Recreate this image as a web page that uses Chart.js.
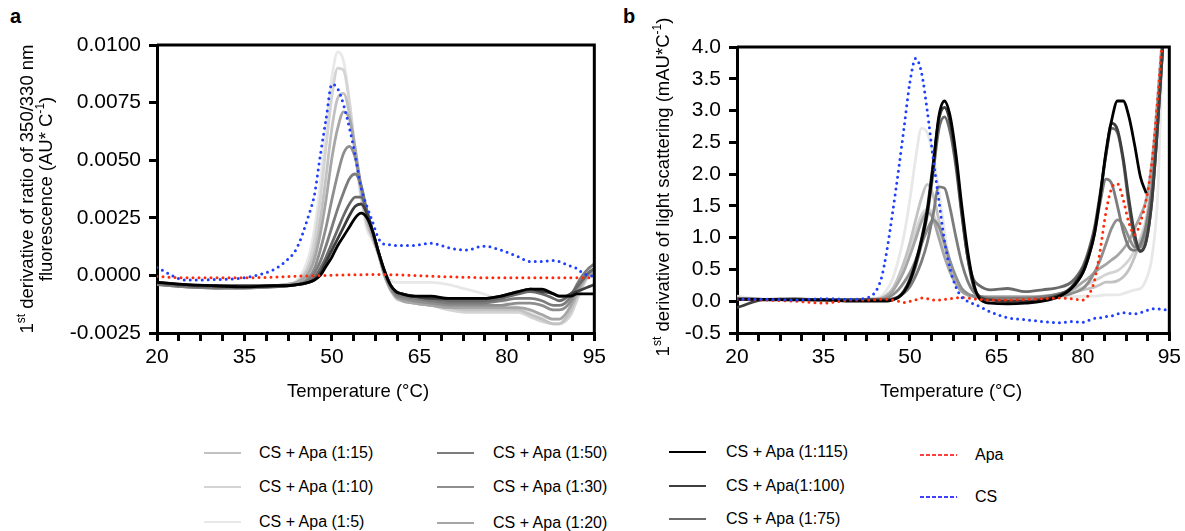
<!DOCTYPE html>
<html>
<head>
<meta charset="utf-8">
<script src="https://cdn.jsdelivr.net/npm/chart.js@4.4.0/dist/chart.umd.min.js"></script>
<style>
  html, body { margin: 0; padding: 0; background: #fff; }
  body { width: 1185px; height: 531px; position: relative; overflow: hidden;
         font-family: Arial, "Liberation Sans", Helvetica, sans-serif; color: #000; }
  #wrapA { position: absolute; left: 0; top: 0; width: 610px; height: 420px; }
  #wrapB { position: absolute; left: 610px; top: 0; width: 575px; height: 420px; }
  .panel { position: absolute; font-weight: bold; font-size: 20px; line-height: 20px; }
  .lgline { position: absolute; line-height: 0; }
  .lgline svg { display: block; }
  .lgtext { position: absolute; font-size: 16px; white-space: nowrap; transform: translateY(-50%); }
</style>
</head>
<body>
<div class="panel" style="left:10px;top:6px">a</div>
<div class="panel" style="left:623px;top:6px">b</div>
<div id="wrapA"><canvas id="chartA" width="610" height="420"></canvas></div>
<div id="wrapB"><canvas id="chartB" width="575" height="420"></canvas></div>
<div id="legend"></div>
<script>
// ---------- data ----------
// panel a : temperature grid (°C)
const TEMP_A = [20, 25, 30, 35, 40, 42, 44, 46, 47, 48, 49, 50, 51, 52, 53, 54, 55, 56, 57, 58,
                59, 60, 61, 62, 64, 67, 70, 73, 76, 79, 82, 84, 86, 88, 89, 90, 91, 92, 93, 94, 95];

const A_R5   = [-0.0003, -0.00045, -0.0005, -0.0005, -0.00045, -0.0004, -0.00022, 0.0008, 0.002, 0.004,
                0.0064, 0.0086, 0.0097, 0.0093, 0.0076, 0.0053, 0.0033, 0.002, 0.0015, 0.0009,
                0.0002, -0.0002, -0.0003, -0.0003, -0.0003, -0.0003, -0.0004, -0.0006, -0.0008, -0.0011,
                -0.0014, -0.0016, -0.0018, -0.0019, -0.0019, -0.0018, -0.0015, -0.001, -0.0005, 0, 0.0003];
const A_R10  = [-0.0003, -0.00045, -0.0005, -0.0005, -0.00045, -0.0004, -0.00028, 0.0005, 0.0015, 0.0033,
                0.0056, 0.0078, 0.009, 0.0089, 0.0075, 0.0054, 0.0035, 0.0022, 0.0016, 0.0009,
                0.0001, -0.0005, -0.0009, -0.0011, -0.0012, -0.0013, -0.0015, -0.0016, -0.0016, -0.0016,
                -0.0016, -0.0018, -0.002, -0.0021, -0.0021, -0.002, -0.0017, -0.0011, -0.0005, 0, 0.0002];
const A_R15  = [-0.00035, -0.00045, -0.0005, -0.0005, -0.00045, -0.0004, -0.0003, 0.0003, 0.001, 0.0024,
                0.0043, 0.0064, 0.0077, 0.0079, 0.007, 0.0053, 0.0036, 0.0023, 0.0016, 0.0009,
                0, -0.0006, -0.001, -0.0011, -0.0012, -0.0013, -0.0014, -0.0015, -0.0015, -0.0015,
                -0.0015, -0.0017, -0.0019, -0.0021, -0.0021, -0.0019, -0.0015, -0.0009, -0.0004, 0, 0.0001];
const A_R20  = [-0.00035, -0.0005, -0.00055, -0.0005, -0.00045, -0.0004, -0.0003, 0.0001, 0.0007, 0.0018,
                0.0033, 0.0051, 0.0064, 0.0071, 0.0068, 0.0055, 0.0038, 0.0025, 0.0017, 0.0009,
                0, -0.0006, -0.0009, -0.0011, -0.0012, -0.0013, -0.0014, -0.0014, -0.0014, -0.0014,
                -0.0014, -0.0015, -0.0017, -0.0019, -0.0019, -0.0017, -0.0013, -0.0008, -0.0003, 0, 0.0001];
const A_R30  = [-0.0004, -0.0005, -0.00055, -0.00055, -0.0005, -0.00045, -0.0004, -0.0001, 0.0003, 0.0011,
                0.0021, 0.0033, 0.0044, 0.0053, 0.0056, 0.0051, 0.0039, 0.0027, 0.0018, 0.001,
                0.0001, -0.0005, -0.0009, -0.001, -0.0011, -0.0012, -0.0013, -0.0013, -0.0013, -0.0013,
                -0.0012, -0.0012, -0.0013, -0.0015, -0.0015, -0.0014, -0.0011, -0.0006, -0.0002, 0.0001, 0.0003];
const A_R50  = [-0.0004, -0.0005, -0.00055, -0.00055, -0.0005, -0.00045, -0.0004, -0.0002, 0.0001, 0.0006,
                0.0013, 0.0021, 0.0029, 0.0036, 0.0042, 0.0044, 0.0039, 0.0028, 0.0019, 0.001,
                0.0002, -0.0004, -0.0008, -0.0009, -0.001, -0.0011, -0.0012, -0.0012, -0.0012, -0.0011,
                -0.001, -0.001, -0.0011, -0.0013, -0.0013, -0.0012, -0.0009, -0.0004, 0, 0.0003, 0.0005];
const A_R75  = [-0.00035, -0.00045, -0.0005, -0.0005, -0.00045, -0.00045, -0.0004, -0.0003, -0.0001, 0.0003,
                0.0008, 0.0014, 0.002, 0.0026, 0.0031, 0.0034, 0.0034, 0.0028, 0.0019, 0.001,
                0.0002, -0.0004, -0.0007, -0.0008, -0.0009, -0.001, -0.0011, -0.0011, -0.0011, -0.001,
                -0.0008, -0.0007, -0.0008, -0.001, -0.0011, -0.001, -0.0008, -0.0005, -0.0002, 0.0001, 0.0003];
const A_R100 = [-0.0003, -0.0004, -0.00045, -0.00045, -0.00045, -0.00045, -0.0004, -0.0003, -0.0002, 0.0001,
                0.0006, 0.0011, 0.0016, 0.0021, 0.0026, 0.003, 0.0031, 0.0027, 0.0019, 0.001,
                0.0002, -0.0004, -0.0007, -0.0008, -0.0009, -0.001, -0.001, -0.001, -0.001, -0.0009,
                -0.0007, -0.0006, -0.0007, -0.0008, -0.0009, -0.0009, -0.0008, -0.0007, -0.0006, -0.0005, -0.0004];
const A_R115 = [-0.0003, -0.0004, -0.00045, -0.0005, -0.00045, -0.00045, -0.0004, -0.0003, -0.0002, 0,
                0.0004, 0.0008, 0.0013, 0.0017, 0.0021, 0.0025, 0.0027, 0.0025, 0.0019, 0.001,
                0.0002, -0.0004, -0.0007, -0.0008, -0.0009, -0.0009, -0.001, -0.001, -0.001, -0.0009,
                -0.0007, -0.0006, -0.0006, -0.0008, -0.0009, -0.0009, -0.0009, -0.0008, -0.0008, -0.0008, -0.0008];
const A_CS   = [0.00034, -0.0002, -0.00018, -0.0001, 0.00025, 0.0006, 0.0012, 0.0026, 0.0035, 0.0052,
                0.0068, 0.0083, 0.0081, 0.0074, 0.0064, 0.0052, 0.0038, 0.003, 0.0023, 0.0016,
                0.00135, 0.00133, 0.0013, 0.0013, 0.0013, 0.0014, 0.0012, 0.0011, 0.00127, 0.0011,
                0.0008, 0.0006, 0.0006, 0.00065, 0.0006, 0.0005, 0.0004, 0.0003, 0.0001, 0, -0.00005];
const A_APA  = [-0.00005, -0.0001, -0.0001, -0.0001, -0.00008, -0.00005, -0.00003, -0.00002, -0.00001, 0,
                0, 0.00001, 0.00002, 0.00002, 0.00003, 0.00003, 0.00003, 0.00004, 0.00004, 0.00004,
                0.00004, 0.00003, 0.00003, 0.00002, 0, -0.00003, -0.00006, -0.00008, -0.0001, -0.0001,
                -0.0001, -0.0001, -0.0001, -0.0001, -0.0001, -0.0001, -0.0001, -0.0001, -0.0001, -0.0001, -0.0001];

// panel b : temperature grid (°C)
const TEMP_B = [20, 25, 30, 35, 40, 43, 45, 46, 47, 48, 49, 50, 51, 52, 53, 54, 55, 56, 57, 58,
                59, 60, 61, 62, 64, 67, 70, 73, 76, 78, 80, 81, 82, 83, 84, 85, 86, 87, 88, 89,
                90, 91, 92, 93, 94, 95];

const B_R5   = [0.08, 0.03, 0.03, 0.02, 0.03, 0.04, 0.08, 0.18, 0.35, 0.65,
                1.05, 1.6, 2.25, 2.72, 2.65, 2.3, 1.75, 1.1, 0.6, 0.38,
                0.2, 0.12, 0.08, 0.06, 0.05, 0.05, 0.05, 0.05, 0.06, 0.07,
                0.08, 0.08, 0.08, 0.09, 0.1, 0.1, 0.1, 0.12, 0.15, 0.18,
                0.2, 0.35, 0.7, 1.7, 4.5, 6];
const B_R10  = [0.05, 0.02, 0.03, 0.02, 0.03, 0.03, 0.05, 0.1, 0.18, 0.33,
                0.55, 0.82, 1.1, 1.35, 1.45, 1.38, 1.1, 0.75, 0.48, 0.28,
                0.16, 0.1, 0.08, 0.07, 0.06, 0.06, 0.06, 0.07, 0.1, 0.15,
                0.22, 0.27, 0.32, 0.37, 0.42, 0.45, 0.48, 0.55, 0.65, 0.8,
                1.0, 1.3, 1.9, 3.0, 4.4, 5.5];
const B_R15  = [0.04, 0.03, 0.02, 0.03, 0.02, 0.03, 0.05, 0.1, 0.2, 0.38,
                0.62, 0.92, 1.28, 1.62, 1.84, 1.68, 1.28, 0.88, 0.55, 0.3,
                0.17, 0.1, 0.08, 0.07, 0.06, 0.06, 0.06, 0.07, 0.1, 0.13,
                0.18, 0.2, 0.22, 0.26, 0.3, 0.3, 0.32, 0.38, 0.5, 0.7,
                0.95, 1.25, 2.0, 3.2, 4.4, 5.5];
const B_R20  = [0.05, 0.03, 0.03, 0.02, 0.03, 0.03, 0.04, 0.08, 0.16, 0.3,
                0.48, 0.72, 0.98, 1.25, 1.4, 1.3, 1.0, 0.7, 0.45, 0.27,
                0.15, 0.1, 0.08, 0.07, 0.07, 0.07, 0.07, 0.08, 0.12, 0.18,
                0.3, 0.37, 0.45, 0.52, 0.58, 0.65, 0.72, 0.82, 0.95, 1.15,
                1.35, 1.6, 2.2, 3.2, 4.4, 5.5];
const B_R30  = [0.03, 0.02, 0.03, 0.03, 0.02, 0.02, 0.03, 0.05, 0.1, 0.18,
                0.3, 0.45, 0.65, 0.9, 1.12, 1.28, 1.18, 0.92, 0.62, 0.38,
                0.2, 0.12, 0.08, 0.06, 0.05, 0.05, 0.05, 0.06, 0.08, 0.12,
                0.2, 0.3, 0.45, 0.65, 0.9, 1.15, 1.28, 1.2, 1.0, 0.85,
                0.85, 1.1, 1.7, 2.8, 4.2, 5.5];
const B_R50  = [0.03, 0.02, 0.03, 0.02, 0.02, 0.02, 0.02, 0.03, 0.04, 0.07,
                0.13, 0.23, 0.4, 0.62, 0.92, 1.35, 1.8, 1.78, 1.45, 1.0,
                0.6, 0.32, 0.15, 0.08, 0.05, 0.05, 0.05, 0.07, 0.12, 0.2,
                0.45, 0.7, 1.05, 1.55, 1.92, 1.85, 1.5, 1.1, 0.85, 0.8,
                0.9, 1.2, 1.8, 2.9, 4.2, 5.5];
const B_R75  = [0.05, 0.03, 0.04, 0.02, 0.02, 0.03, 0.02, 0.02, 0.03, 0.06,
                0.15, 0.3, 0.55, 0.9, 1.35, 2.0, 2.7, 2.9, 2.65, 2.1,
                1.35, 0.7, 0.35, 0.25, 0.18, 0.2, 0.15, 0.18, 0.22, 0.3,
                0.55, 0.8, 1.15, 1.7, 2.3, 2.72, 2.65, 2.2, 1.5, 0.95,
                0.8, 0.95, 1.6, 2.8, 4.2, 5.5];
const B_R100 = [-0.1, 0.03, 0.03, 0.02, 0.02, 0.02, 0.02, 0.02, 0.03, 0.07,
                0.17, 0.35, 0.62, 0.98, 1.45, 2.15, 2.85, 3.05, 2.8, 2.2,
                1.4, 0.7, 0.25, 0.08, 0.02, 0, 0, 0.03, 0.1, 0.22,
                0.5, 0.75, 1.1, 1.65, 2.3, 2.8, 2.7, 2.25, 1.6, 1.05,
                0.78, 0.95, 1.6, 2.8, 4.2, 5.5];
const B_R115 = [0.03, 0.03, 0.02, 0.02, 0, 0, 0, 0, 0.02, 0.06,
                0.15, 0.32, 0.6, 0.95, 1.4, 2.1, 2.9, 3.15, 2.9, 2.3,
                1.5, 0.8, 0.3, 0.05, -0.03, -0.04, -0.03, 0, 0.08, 0.2,
                0.45, 0.7, 1.05, 1.65, 2.35, 2.85, 3.15, 3.15, 2.9, 2.45,
                1.95, 1.7, null, null, null, null];
const B_CS   = [0.03, 0.03, 0.02, 0.04, 0.03, 0.07, 0.35, 0.8, 1.4, 2.05,
                2.75, 3.45, 3.82, 3.6, 3.0, 2.27, 1.6, 0.95, 0.5, 0.22,
                0.06, 0, -0.04, -0.08, -0.17, -0.26, -0.29, -0.32, -0.34, -0.32,
                -0.33, -0.3, -0.27, -0.26, -0.24, -0.23, -0.2, -0.18, -0.19, -0.2,
                -0.18, -0.15, -0.12, -0.12, -0.13, -0.14];
const B_APA  = [0.03, 0.02, 0, -0.03, 0.02, 0.02, 0.03, 0.03, 0.02, 0,
                -0.02, 0, 0.02, 0.05, 0.04, 0.02, 0.02, 0.03, 0.04, 0.05,
                0.06, 0.05, 0.04, 0.03, 0.02, 0.02, 0.03, 0.04, 0.05, 0.04,
                0.02, 0.1, 0.32, 0.8, 1.4, 1.78, 1.85, 1.6, 1.23, 1.05,
                1.25, 1.6, 2.2, 3.2, 4.4, 6];

// ticks
const X_LABELS = [20, 35, 50, 65, 80, 95];
const X_MINOR_STEP = 3.75;
const A_YTICKS = [-0.0025, 0, 0.0025, 0.005, 0.0075, 0.01];
const B_YTICKS = [-0.5, 0, 0.5, 1.0, 1.5, 2.0, 2.5, 3.0, 3.5, 4.0];

// ---------- series styling ----------
const SERIES = {
  'CS':    { label: 'CS',              plot: '#1f3fff', legend: '#0000ff', dotted: true },
  'Apa':   { label: 'Apa',             plot: '#ff2a0a', legend: '#ff0000', dotted: true },
  '1:115': { label: 'CS + Apa (1:115)', plot: '#000000' },
  '1:100': { label: 'CS + Apa(1:100)',  plot: '#3e3e3e' },
  '1:75':  { label: 'CS + Apa (1:75)',  plot: '#6a6a6a' },
  '1:50':  { label: 'CS + Apa (1:50)',  plot: '#7c7c7c' },
  '1:30':  { label: 'CS + Apa (1:30)',  plot: '#8e8e8e' },
  '1:20':  { label: 'CS + Apa (1:20)',  plot: '#a6a6a6' },
  '1:15':  { label: 'CS + Apa (1:15)',  plot: '#c2c2c2' },
  '1:10':  { label: 'CS + Apa (1:10)',  plot: '#d4d4d4' },
  '1:5':   { label: 'CS + Apa (1:5)',   plot: '#e8e8e8' }
};
const DRAW_ORDER = ['CS', 'Apa', '1:115', '1:100', '1:75', '1:50', '1:30', '1:20', '1:15', '1:10', '1:5'];
const DATA_A = { 'CS': A_CS, 'Apa': A_APA, '1:115': A_R115, '1:100': A_R100, '1:75': A_R75, '1:50': A_R50,
                 '1:30': A_R30, '1:20': A_R20, '1:15': A_R15, '1:10': A_R10, '1:5': A_R5 };
const DATA_B = { 'CS': B_CS, 'Apa': B_APA, '1:115': B_R115, '1:100': B_R100, '1:75': B_R75, '1:50': B_R50,
                 '1:30': B_R30, '1:20': B_R20, '1:15': B_R15, '1:10': B_R10, '1:5': B_R5 };

const FONT = 'Arial, "Liberation Sans", Helvetica, sans-serif';

// ---------- plugins ----------
function drawRich(ctx, text, cx, cy, size, rotate) {
  // text with ^{...} superscripts
  const bits = text.split(/\^\{([^}]*)\}/).map((t, i) => ({ t, sup: i % 2 === 1 })).filter(b => b.t);
  const big = size + 'px ' + FONT, small = (size * 0.65) + 'px ' + FONT;
  ctx.save();
  ctx.translate(cx, cy);
  if (rotate) ctx.rotate(-Math.PI / 2);
  let w = 0;
  bits.forEach(b => { ctx.font = b.sup ? small : big; w += ctx.measureText(b.t).width; });
  let x = -w / 2;
  ctx.fillStyle = '#000';
  ctx.textBaseline = 'alphabetic';
  ctx.textAlign = 'left';
  const base = size * 0.36;
  bits.forEach(b => {
    ctx.font = b.sup ? small : big;
    ctx.fillText(b.t, x, b.sup ? base - size * 0.4 : base);
    x += ctx.measureText(b.t).width;
  });
  ctx.restore();
}

const axisText = {
  id: 'axisText',
  afterDraw(chart, args, o) {
    const ctx = chart.ctx;
    o.yLines.forEach((t, i) => drawRich(ctx, t, o.yX[i], o.yMid, o.size, true));
    drawRich(ctx, o.xText, o.xMid, o.xY, o.size, false);
  }
};

const frame = {
  id: 'frame',
  afterDatasetsDraw(chart) {
    const { ctx, chartArea: a } = chart;
    ctx.save();
    ctx.strokeStyle = '#000';
    ctx.lineWidth = 3;
    ctx.beginPath();
    ctx.moveTo(a.left, a.top);
    ctx.lineTo(a.right, a.top);
    ctx.lineTo(a.right, a.bottom);
    ctx.stroke();
    ctx.restore();
  }
};

// ---------- chart builder ----------
function buildDatasets(temps, data) {
  return DRAW_ORDER.map(key => {
    const s = SERIES[key];
    return {
      label: s.label,
      data: temps.map((t, i) => ({ x: t, y: data[key][i] })),
      borderColor: s.plot,
      borderWidth: s.dotted ? 3 : 2.8,
      borderDash: s.dotted ? [0, 6] : [],
      borderCapStyle: s.dotted ? 'round' : 'butt',
      pointRadius: 0,
      cubicInterpolationMode: 'monotone',
      fill: false,
      spanGaps: false
    };
  });
}

function makeChart(id, temps, data, cfg) {
  const minor = [];
  for (let v = 20; v <= 95 + 1e-9; v += X_MINOR_STEP) minor.push(v);
  return new Chart(document.getElementById(id), {
    type: 'line',
    data: { datasets: buildDatasets(temps, data) },
    options: {
      responsive: false,
      animation: false,
      layout: { padding: { top: cfg.top, right: cfg.right, left: 0, bottom: 0 } },
      plugins: {
        legend: { display: false },
        tooltip: { enabled: false },
        axisText: cfg.titles
      },
      scales: {
        x: {
          type: 'linear', min: 20, max: 95,
          afterFit: s => { s.height = 87; },
          afterBuildTicks: s => { s.ticks = minor.map(v => ({ value: v })); },
          ticks: {
            autoSkip: false, maxRotation: 0, padding: 4, color: '#000',
            font: { family: FONT, size: 21 },
            callback: v => (X_LABELS.includes(v) ? String(v) : '')
          },
          grid: { drawOnChartArea: false, drawTicks: true, tickLength: 8, lineWidth: 3, color: '#000' },
          border: { display: true, width: 3, color: '#000' }
        },
        y: {
          type: 'linear', min: cfg.yTicks[0], max: cfg.yTicks[cfg.yTicks.length - 1],
          afterFit: s => { s.width = cfg.yWidth; },
          afterBuildTicks: s => { s.ticks = cfg.yTicks.map(v => ({ value: v })); },
          ticks: {
            padding: 8, color: '#000',
            font: { family: FONT, size: 21 },
            callback: v => v.toFixed(cfg.decimals)
          },
          grid: { drawOnChartArea: false, drawTicks: true, tickLength: 8, lineWidth: 3, color: '#000' },
          border: { display: true, width: 3, color: '#000' }
        }
      }
    },
    plugins: [frame, axisText]
  });
}

makeChart('chartA', TEMP_A, DATA_A, {
  top: 45, right: 15, yWidth: 157, yTicks: A_YTICKS, decimals: 4,
  titles: {
    size: 18.5,
    yLines: ['1^{st} derivative of ratio of 350/330 nm', 'fluorescence (AU* C^{-1})'],
    yX: [26, 45], yMid: 189,
    xText: 'Temperature (°C)', xMid: 358, xY: 390
  }
});

makeChart('chartB', TEMP_B, DATA_B, {
  top: 47, right: 13, yWidth: 127, yTicks: B_YTICKS, decimals: 1,
  titles: {
    size: 18.5,
    yLines: ['1^{st} derivative of light scattering (mAU*C^{-1})'],
    yX: [52], yMid: 187,
    xText: 'Temperature (°C)', xMid: 341, xY: 390
  }
});

// ---------- legend ----------
const LEGEND_COLS = [
  { x: 204, tx: 259, ys: [453, 487, 522], keys: ['1:15', '1:10', '1:5'] },
  { x: 437, tx: 493, ys: [453, 487, 523], keys: ['1:50', '1:30', '1:20'] },
  { x: 669, tx: 726, ys: [452, 486, 519], keys: ['1:115', '1:100', '1:75'] },
  { x: 920, tx: 975, ys: [455, 497], keys: ['Apa', 'CS'] }
];
const legend = document.getElementById('legend');
LEGEND_COLS.forEach(col => {
  col.keys.forEach((key, i) => {
    const s = SERIES[key];
    const y = col.ys[i];
    const color = s.legend || s.plot;
    const dash = s.dotted ? 'stroke-dasharray="4 2"' : '';
    const sw = s.dotted ? 1.5 : 2.2;
    const line = document.createElement('div');
    line.className = 'lgline';
    line.style.left = col.x + 'px';
    line.style.top = (y - 3) + 'px';
    line.innerHTML = '<svg width="38" height="6"><line x1="0" y1="3" x2="37" y2="3" stroke="' + color +
                     '" stroke-width="' + sw + '" ' + dash + '/></svg>';
    legend.appendChild(line);
    const txt = document.createElement('div');
    txt.className = 'lgtext';
    txt.style.left = col.tx + 'px';
    txt.style.top = y + 'px';
    txt.textContent = s.label;
    legend.appendChild(txt);
  });
});
</script>
</body>
</html>
